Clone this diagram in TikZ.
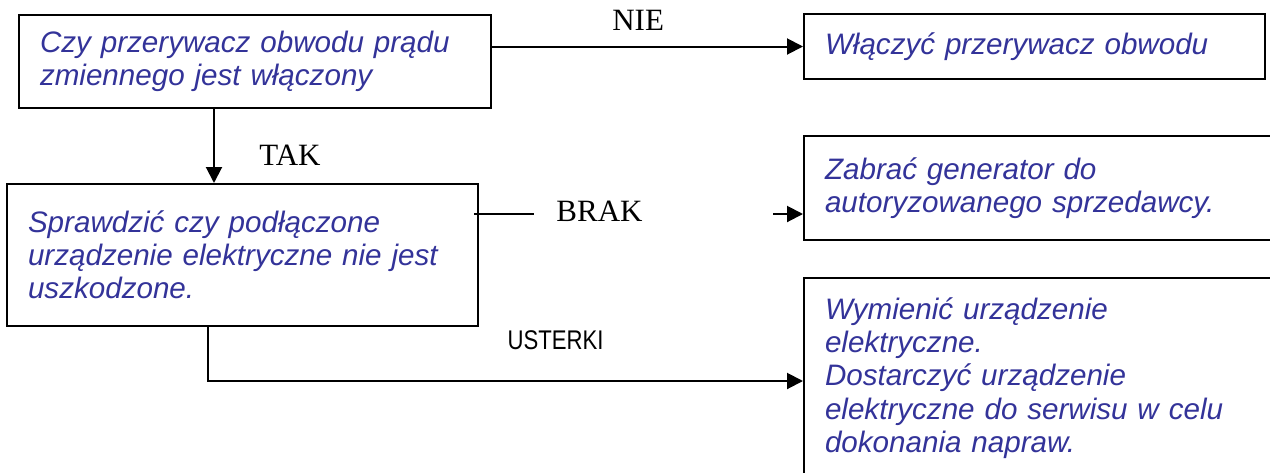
\documentclass[tikz,border=0pt]{standalone}
\usepackage{fontspec}
\setmainfont{Liberation Serif}
\setsansfont{Liberation Sans}
\newfontfamily\narrowsans[FakeStretch=0.82]{Liberation Sans}
\usepackage{tikz}
\usetikzlibrary{arrows.meta}
\usetikzlibrary{positioning}
\definecolor{boxtext}{RGB}{51,51,153}
\tikzset{box/.style = {draw, line width = 1pt, anchor = north west, align = left,
                       inner xsep = 10.5pt, inner ysep = 0pt, text = boxtext,
                       font = \sffamily\itshape\fontsize{14.8}{16.6}\selectfont}}
\tikzset{lbl/.style = {inner sep = 0, font = \fontsize{15.5}{18}\selectfont}}
\tikzset{arr/.style = {line width = 1pt, -{Triangle[length = 8pt, width = 8pt]}}}

\begin{document}
\begin{tikzpicture}[x = 0.5pt, y = -0.5pt]
      \useasboundingbox (0, 0) rectangle (1270, 472);
      % boxes
      \node [box, text width = 215pt, minimum height = 46.5pt] (check) at (18, 14)
            {Czy przerywacz obwodu prądu\\zmiennego jest włączony};
      \node [box, text width = 214.5pt, minimum height = 71pt] (inspect) at (6, 183)
            {Sprawdzić czy podłączone\\urządzenie elektryczne nie jest\\uszkodzone.};
      \node [box, text width = 209.5pt, minimum height = 32.5pt] (turnon) at (803, 13)
            {Włączyć przerywacz obwodu};
      \node [box, text width = 229pt, minimum height = 52pt] (dealer) at (803, 135)
            {Zabrać generator do\\autoryzowanego sprzedawcy.};
      \node [box, text width = 229pt, minimum height = 100pt] (repair) at (803, 277)
            {Wymienić urządzenie\\elektryczne.\\Dostarczyć urządzenie\\elektryczne do serwisu w celu\\dokonania napraw.};
      % connectors
      \draw [arr] (check.east |- turnon.west) -- (turnon.west)
            node [lbl, pos = 0.47, yshift = 13.25pt] (nie) {NIE};
      \draw [arr] ([xshift = -20.5pt]check.south) -- ([xshift = -20.5pt]check.south |- inspect.north)
            node [lbl, pos = 0.62, xshift = 38pt] (tak) {TAK};
      \draw [line width = 1pt] ([xshift = -2.5pt, yshift = -15.5pt]inspect.north east) coordinate (b1)
            -- ++(60, 0) coordinate (b2);
      \node [lbl, xshift = 32.75pt, yshift = 1.5pt] (brak) at (b2) {BRAK};
      \coordinate (b3) at (b1 -| dealer.west);
      \draw [arr] ([xshift = -15pt]b3) -- (b3);
      \draw [arr] ([xshift = -17.25pt]inspect.south) |- ([yshift = -1.5pt]repair.west)
            node [lbl, font = \narrowsans\fontsize{13.5}{15}\selectfont, pos = 0.792, yshift = 20.25pt] (usterki) {USTERKI};
    \end{tikzpicture}
\end{document}
